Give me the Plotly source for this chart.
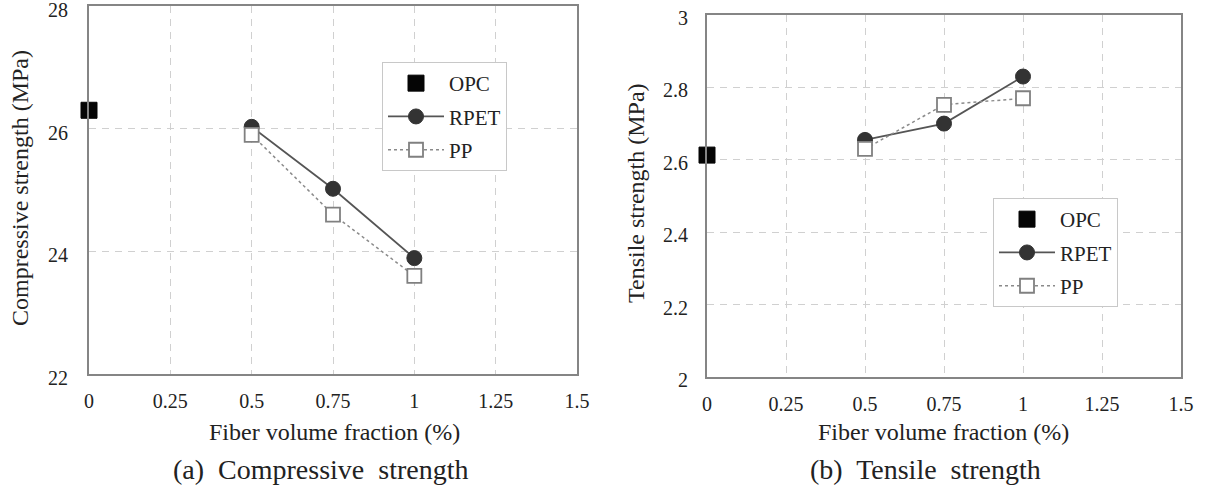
import plotly.graph_objects as go

# ---- data ----
opc_x = [0]
fiber_x = [0.5, 0.75, 1.0]

comp_opc = [26.3]
comp_rpet = [26.03, 25.02, 23.89]
comp_pp = [25.9, 24.6, 23.6]

tens_opc = [2.613]
tens_rpet = [2.655, 2.70, 2.83]
tens_pp = [2.63, 2.752, 2.77]

x_ticks = [0, 0.25, 0.5, 0.75, 1, 1.25, 1.5]
x_tick_text = ["0", "0.25", "0.5", "0.75", "1", "1.25", "1.5"]
comp_ticks = [22, 24, 26, 28]
tens_ticks = [2, 2.2, 2.4, 2.6, 2.8, 3]
tens_tick_text = ["2", "2.2", "2.4", "2.6", "2.8", "3"]

W, H = 1205, 489
FONT = "Liberation Serif, Times New Roman, serif"
TXT = "#222222"


def px(x):
    return x / W


def py(y):
    return 1 - y / H


fig = go.Figure()


def add_panel(xa, ya, leg, opc, rpet, pp, suffix):
    fig.add_trace(go.Scatter(
        x=opc_x, y=opc, mode="markers", name="OPC",
        marker=dict(symbol="square", size=16, color="#050505",
                    line=dict(color="#050505", width=1)),
        xaxis=xa, yaxis=ya, legend=leg, legendgroup="opc" + suffix,
        cliponaxis=False))
    fig.add_trace(go.Scatter(
        x=fiber_x, y=rpet, mode="lines+markers", name="RPET",
        line=dict(color="#555555", width=1.8),
        marker=dict(symbol="circle", size=15, color="#333333",
                    line=dict(color="#333333", width=1)),
        xaxis=xa, yaxis=ya, legend=leg, legendgroup="rpet" + suffix,
        cliponaxis=False))
    fig.add_trace(go.Scatter(
        x=fiber_x, y=pp, mode="lines+markers", name="PP",
        line=dict(color="#8a8a8a", width=1.5, dash="dot"),
        marker=dict(symbol="square", size=14, color="white",
                    line=dict(color="#808080", width=1.8)),
        xaxis=xa, yaxis=ya, legend=leg, legendgroup="pp" + suffix,
        cliponaxis=False))


add_panel("x", "y", "legend", comp_opc, comp_rpet, comp_pp, "a")
add_panel("x2", "y2", "legend2", tens_opc, tens_rpet, tens_pp, "b")

axis_common = dict(
    showline=True, mirror=True, linecolor="#858585", linewidth=2,
    showgrid=True, gridcolor="#d0d0d0", griddash="7px,6px", gridwidth=1,
    zeroline=False, ticks="", automargin=False, ticklabeloverflow="allow",
    tickfont=dict(family=FONT, size=20, color=TXT),
)

legend_common = dict(
    bgcolor="white", bordercolor="#c8c8c8", borderwidth=1,
    font=dict(family=FONT, size=21, color=TXT),
    xanchor="left", yanchor="top", tracegroupgap=3,
    itemwidth=56,
)

fig.update_layout(
    width=W, height=H, autosize=False,
    margin=dict(l=0, r=0, t=0, b=0),
    paper_bgcolor="white", plot_bgcolor="white",
    showlegend=True,
    xaxis=dict(domain=[px(89), px(577)], range=[0, 1.5], tickvals=x_ticks,
               ticktext=x_tick_text, ticklabelstandoff=8, anchor="y", **axis_common),
    yaxis=dict(domain=[py(374), py(6)], range=[22, 28], tickvals=comp_ticks,
               ticklabelstandoff=15, ticklabelshift=4, anchor="x", **axis_common),
    xaxis2=dict(domain=[px(707), px(1181)], range=[0, 1.5], tickvals=x_ticks,
                ticktext=x_tick_text, ticklabelstandoff=8, anchor="y2", **axis_common),
    yaxis2=dict(domain=[py(377), py(15)], range=[2, 3], tickvals=tens_ticks,
                ticktext=tens_tick_text, ticklabelstandoff=13, ticklabelshift=3,
                anchor="x2", **axis_common),
    legend=dict(x=px(382), y=py(62), **legend_common),
    legend2=dict(x=px(993), y=py(198), **legend_common),
)

annotations = [
    dict(text="Fiber volume fraction (%)", x=px(334), y=py(432), size=24),
    dict(text="(a)  Compressive  strength", x=px(321), y=py(469), size=28),
    dict(text="Fiber volume fraction (%)", x=px(943), y=py(432), size=24),
    dict(text="(b)  Tensile  strength", x=px(925), y=py(469), size=28),
]
for a in annotations:
    fig.add_annotation(text=a["text"], x=a["x"], y=a["y"], xref="paper", yref="paper",
                       showarrow=False, xanchor="center", yanchor="middle",
                       font=dict(family=FONT, size=a["size"], color=TXT))

fig.add_annotation(text="Compressive strength (MPa)", x=px(20), y=py(188),
                   xref="paper", yref="paper", showarrow=False, textangle=-90,
                   xanchor="center", yanchor="middle",
                   font=dict(family=FONT, size=24, color=TXT))
fig.add_annotation(text="Tensile strength (MPa)", x=px(636), y=py(193),
                   xref="paper", yref="paper", showarrow=False, textangle=-90,
                   xanchor="center", yanchor="middle",
                   font=dict(family=FONT, size=24, color=TXT))

fig.write_html("out.html")
